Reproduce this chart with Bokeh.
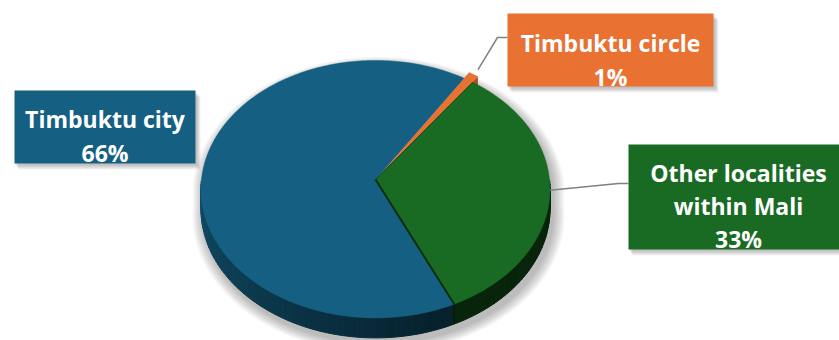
import numpy as np
from bokeh.plotting import figure
from bokeh.models import Range1d
from bokeh.embed import file_html
from bokeh.resources import INLINE
from bokeh.core.properties import value

# ---------------- data ----------------
names = [["Timbuktu city"], ["Timbuktu circle"], ["Other localities", "within Mali"]]
shares = [66, 1, 33]
colors = ["#156082", "#E97132", "#196B24"]
explode = [0.0, 0.06, 0.0]

# ---------------- style / layout ----------------
X0, Y0 = 375.0, 179.0     # apex of pie on screen
R, S, K = 174.0, 128.0, 0.075
D = 20.0                   # side depth
START = -65.1              # first slice angle (deg), clockwise

boxes = [(14, 195, 90, 163), (507, 713, 13, 86), (628, 845, 144, 249)]
baselines = [[118, 152], [42, 76], [172, 205, 238]]
text_x = [104.5, 610, 738]


def proj(theta, r=1.0, e=0.0, emid=0.0):
    t = np.radians(theta)
    m = np.radians(emid)
    u = r * np.cos(t) + e * np.cos(m)
    v = r * np.sin(t) + e * np.sin(m)
    w = 1 + K * v
    return X0 + R * u / w, Y0 - S * v / w


def shade(hexc, f):
    h = hexc.lstrip("#")
    rgb = [int(h[i:i + 2], 16) for i in (0, 2, 4)]
    return "#%02x%02x%02x" % tuple(int(max(0, min(255, c * f))) for c in rgb)


def side_factor(m):
    if m <= 290:
        return 0.80 - (m - 180) / 110 * 0.45
    return 0.35


p = figure(width=839, height=340, x_range=Range1d(0, 839), y_range=Range1d(340, 0),
           toolbar_location=None, output_backend="svg", min_border=0,
           x_axis_type=None, y_axis_type=None)
p.grid.visible = False
p.outline_line_color = None
p.background_fill_color = "white"
p.border_fill_color = "white"

# slice angles
total = float(sum(shares))
starts, ends, mids = [], [], []
a = START
for s in shares:
    span = 360.0 * s / total
    starts.append(a)
    ends.append(a - span)
    mids.append(a - span / 2)
    a -= span

# ---------------- shadow of pie ----------------
tb = np.linspace(0, 180, 90)
tf = np.linspace(180, 360, 90)
bx, by = proj(tb)
fx, fy = proj(tf)
sx = np.concatenate([bx, fx])
sy = np.concatenate([by, fy + D])
cxs, cys = X0, Y0 + D / 2
for i in range(9, 0, -1):
    sc = 1 + i * 1.3 / R
    p.patch(cxs + (sx - cxs) * sc + 3, cys + (sy - cys) * sc + 5,
            fill_color="black", fill_alpha=0.03, line_color=None)

# ---------------- side walls ----------------
xs_l, ys_l, col_l = [], [], []
for i, s in enumerate(shares):
    a0, a1 = starts[i], ends[i]
    n = max(2, int(abs(a0 - a1) / 1.5))
    ts = np.linspace(a0, a1, n + 1)
    for j in range(n):
        m = ((ts[j] + ts[j + 1]) / 2) % 360
        if 180 < m < 360:
            x1, y1 = proj(ts[j], 1.0, explode[i], mids[i])
            x2, y2 = proj(ts[j + 1], 1.0, explode[i], mids[i])
            xs_l.append([x1, x2, x2, x1])
            ys_l.append([y1, y2, y2 + D, y1 + D])
            col_l.append(shade(colors[i], side_factor(m)))
p.patches(xs_l, ys_l, fill_color=col_l, line_color=col_l, line_width=1)

# boundary edge on side between city and other
bxe, bye = proj(ends[2])
p.line([bxe, bxe], [bye, bye + D], line_color="#061a0a", line_width=1.5)

# ---------------- orange radial wall (exploded) ----------------
i = 1
ax_, ay_ = proj(0, 0.0, explode[i], mids[i])
ex_, ey_ = proj(ends[i], 1.0, explode[i], mids[i])
p.patch([ax_, ex_, ex_, ax_], [ay_, ey_, ey_ + D, ay_ + D],
        fill_color=shade(colors[1], 0.7), line_color=None)

# ---------------- top faces ----------------
for i in [1, 2, 0]:
    ts = np.linspace(starts[i], ends[i], max(3, int(abs(starts[i] - ends[i]))))
    rx, ry = proj(ts, 1.0, explode[i], mids[i])
    ax_, ay_ = proj(0, 0.0, explode[i], mids[i])
    p.patch(np.concatenate([[ax_], rx]), np.concatenate([[ay_], ry]),
            fill_color=colors[i], line_color=colors[i], line_width=0.5)

# dark edge along green / blue boundary
gx, gy = proj(ends[2])
p.line([X0, gx], [Y0, gy], line_color="#0b2e10", line_width=2)
gx2, gy2 = proj(starts[2])
p.line([X0, gx2], [Y0, gy2], line_color="#124a1a", line_width=1)

# ---------------- leader lines ----------------
lx, ly = proj(mids[1], 1.05, explode[1], mids[1])
p.line([lx, 497, boxes[1][0]], [ly, 37, 37], line_color="#808080", line_width=1.5)
gx3, gy3 = proj(mids[2], 1.0)
p.line([gx3, 618, boxes[2][0]], [gy3 - 2, 183, 183], line_color="#808080", line_width=1.5)

# ---------------- label boxes ----------------
for i, (l, r, t, b) in enumerate(boxes):
    for k in range(5, 0, -1):
        p.quad(left=l + k * 0.8, right=r + k * 0.8 + 1, top=t + k * 1.0 + 1, bottom=b + k * 1.0 + 1,
               fill_color="black", fill_alpha=0.05, line_color=None)
    p.quad(left=l, right=r, top=t, bottom=b, fill_color=colors[i], line_color=None)
    lines = names[i] + [f"{shares[i]}%"]
    p.text(x=[text_x[i]] * len(lines), y=baselines[i], text=lines,
           text_font=value("Open Sans"), text_font_style="bold", text_font_size="23px",
           text_color="white", text_align="center", text_baseline="alphabetic")

open("out.html", "w").write(file_html(p, INLINE))
